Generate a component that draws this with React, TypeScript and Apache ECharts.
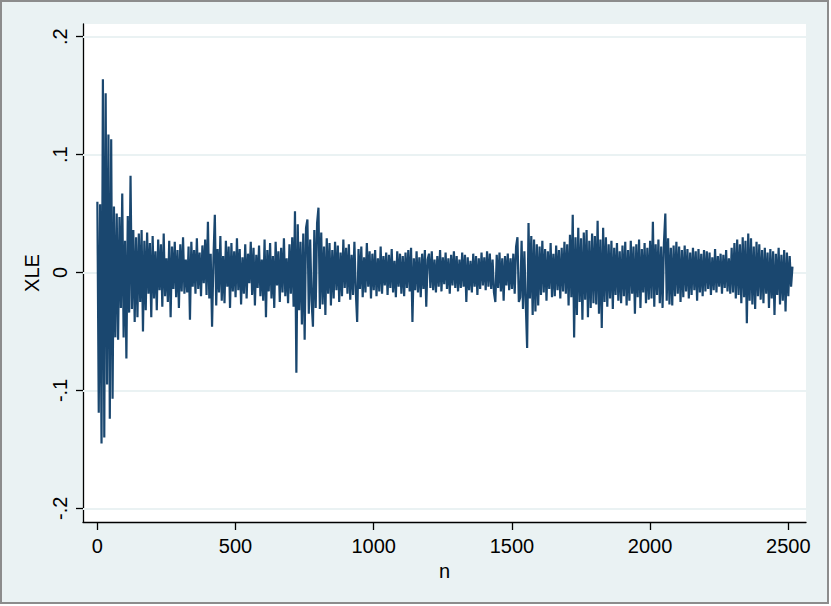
import React, { useEffect, useRef } from "react";
import * as echarts from "echarts";

const xTicks = [0, 500, 1000, 1500, 2000, 2500];
const yTicks = [-0.2, -0.1, 0, 0.1, 0.2];
const nStart = 0;
const nStep = 5;
const xle = [
  .060,-.119,.058,-.145,.164,-.140,.152,-.095,.117,-.124,.113,-.107,.056,-.055,.050,-.057,.047,-.030,.067,-.055,
  .027,-.073,.048,-.034,.082,-.031,.036,-.042,.030,-.038,.033,-.025,.036,-.050,.027,-.032,.034,-.018,.025,-.038,
  .031,-.022,.018,-.032,.028,-.015,.024,-.029,.033,-.020,.012,-.025,.027,-.038,.022,-.014,.026,-.021,.019,-.030,
  .024,-.016,.030,-.018,.011,-.017,.022,-.040,.026,-.012,.019,-.018,.029,-.014,.017,-.020,.023,-.009,.028,-.019,
  .043,-.022,.016,-.046,.012,.049,-.028,.020,-.017,.031,-.024,.014,-.026,.027,-.012,.022,-.030,.025,-.016,.018,
  -.021,.029,-.015,.020,-.027,.013,-.018,.024,-.022,.016,-.009,.026,-.019,.021,-.028,.015,-.013,.023,-.020,.011,
  -.024,.028,-.038,.019,-.016,.025,-.022,.014,-.030,.026,-.011,.018,-.025,.021,-.017,.029,-.020,.012,-.026,.024,
  -.018,.030,-.029,.052,-.085,.041,-.032,.026,-.044,.033,-.057,.038,.045,-.035,.028,-.024,-.046,.036,-.030,.042,
  .055,-.031,.034,-.027,.022,-.036,.029,-.018,.025,-.028,.019,-.022,.026,-.015,.023,-.025,.017,-.020,.028,-.013,
  .021,-.018,.024,-.023,.015,-.019,.026,-.016,-.042,.020,-.014,.022,-.021,.013,-.017,.025,-.012,.018,-.022,.016,
  -.015,.019,-.020,.012,-.016,.022,-.018,.014,-.011,.017,-.019,.015,-.013,.020,-.017,.010,-.021,.018,-.012,.016,
  -.018,.014,-.020,.017,-.013,.019,-.016,.021,-.042,.012,-.015,.018,-.017,.013,-.021,.016,-.014,.019,-.029,.011,
  .016,-.013,.018,-.015,.011,-.017,.014,-.012,.019,-.016,.013,-.010,.017,-.014,.012,-.018,.015,-.011,.018,-.013,
  .014,-.016,.011,-.013,.017,-.012,.015,-.025,.013,-.015,.010,-.017,.016,-.012,.014,-.019,.012,-.014,.017,-.011,
  .013,-.015,.018,-.012,.016,-.014,.011,-.017,-.025,.015,-.013,.017,-.016,.012,-.024,.014,-.011,.016,-.015,.012,
  -.014,.016,-.018,.022,.030,-.025,-.021,.027,-.031,.018,-.026,-.064,.042,-.022,.031,-.036,.028,-.033,.024,-.028,
  .022,-.019,.027,-.017,.020,-.024,.018,-.014,.025,-.021,.016,-.020,.023,-.015,.019,-.022,.021,-.016,.026,-.018,
  .024,-.028,.032,-.021,.049,-.055,.030,-.036,.038,-.025,.029,-.040,.034,-.023,.036,-.038,.027,-.030,.033,-.026,
  .031,-.027,.044,-.035,.028,-.047,.038,-.025,.030,-.029,.024,-.022,.027,-.031,.021,-.019,.025,-.024,.018,-.026,
  .023,-.020,.026,-.028,.019,-.024,.027,-.018,.022,-.035,.024,-.021,.028,-.030,.020,-.017,.025,-.026,.021,-.023,
  .027,-.022,.043,-.029,.024,-.019,.028,-.026,.022,-.030,.025,.050,-.024,.029,-.027,.021,-.028,.023,-.020,.026,
  -.018,.022,-.025,.019,-.021,.023,-.016,.020,-.022,.017,-.019,.021,-.015,.018,-.024,.020,-.017,.016,-.020,.019,
  -.016,.018,-.014,.017,-.019,.013,-.015,.020,-.017,.014,-.012,.016,-.018,.015,-.013,.019,-.016,.012,-.018,.021,
  -.017,.025,-.022,.028,-.019,.024,-.026,.030,-.021,.027,-.043,.033,-.024,.029,-.027,.022,-.031,.026,-.020,.024,
  -.023,.019,-.026,.021,-.018,.017,-.030,.020,-.022,.018,-.036,.016,-.019,.021,-.027,.015,-.024,.019,-.033,.017,
  -.020,.014,-.012,.005,
];

const FONT = "'Liberation Sans', Arial, sans-serif";

export default function App() {
  const ref = useRef<HTMLDivElement>(null);
  useEffect(() => {
    const chart = echarts.init(ref.current!, null, { renderer: "svg" });
    const data = xle.map((v, i) => [nStart + i * nStep, v]);
    const fmtY = (v: number) => {
      if (Math.abs(v) < 1e-9) return "0";
      return v.toFixed(1).replace("0.", ".");
    };
    chart.setOption({
      animation: false,
      backgroundColor: "transparent",
      textStyle: { fontFamily: FONT },
      graphic: [
        {
          type: "rect",
          z: -10,
          shape: { x: 1, y: 1, width: 827, height: 602 },
          style: { fill: "#eaf2f3", stroke: "#8c8c8c", lineWidth: 2 },
        },
      ],
      grid: {
        left: 83,
        right: 25,
        top: 24,
        bottom: 84,
        show: true,
        backgroundColor: "#ffffff",
        borderWidth: 0,
      },
      xAxis: {
        type: "value",
        min: -52,
        max: 2564,
        name: "n",
        nameLocation: "middle",
        nameGap: 34,
        nameTextStyle: { color: "#000", fontSize: 20, fontFamily: FONT },
        axisLine: { show: true, onZero: false, lineStyle: { color: "#000", width: 1.3 } },
        axisTick: { show: true, length: 8, customValues: xTicks, lineStyle: { color: "#000", width: 1.3 } },
        axisLabel: {
          customValues: xTicks,
          margin: 14,
          color: "#000",
          fontSize: 20,
          fontFamily: FONT,
          formatter: (v: number) => String(v),
        },
        splitLine: { show: false },
      },
      yAxis: {
        type: "value",
        min: -0.2116,
        max: 0.2108,
        name: "XLE",
        nameLocation: "middle",
        nameGap: 35,
        nameTextStyle: { color: "#000", fontSize: 20, fontFamily: FONT },
        axisLine: { show: true, onZero: false, lineStyle: { color: "#000", width: 1.3 } },
        axisTick: { show: true, length: 7, customValues: yTicks, lineStyle: { color: "#000", width: 1.3 } },
        axisLabel: {
          customValues: yTicks,
          rotate: 90,
          margin: 13,
          color: "#000",
          fontSize: 20,
          fontFamily: FONT,
          formatter: fmtY,
        },
        splitLine: { show: false },
      },
      series: [
        {
          type: "line",
          data: [],
          z: 1,
          silent: true,
          markLine: {
            z: 1,
            silent: true,
            symbol: "none",
            label: { show: false },
            lineStyle: { color: "#eaf2f3", width: 2, type: "solid" },
            data: yTicks.map((t) => ({ yAxis: t })),
          },
        },
        {
          type: "line",
          z: 3,
          data,
          showSymbol: false,
          symbol: "none",
          lineStyle: { color: "#1a476f", width: 2.2, join: "miter" },
        },
      ],
    });
    return () => chart.dispose();
  }, []);
  return (
    <div style={{ position: "fixed", left: 0, top: 0, width: 831, height: 606, background: "#fff" }}>
      <div ref={ref} style={{ width: 831, height: 606 }} />
    </div>
  );
}
